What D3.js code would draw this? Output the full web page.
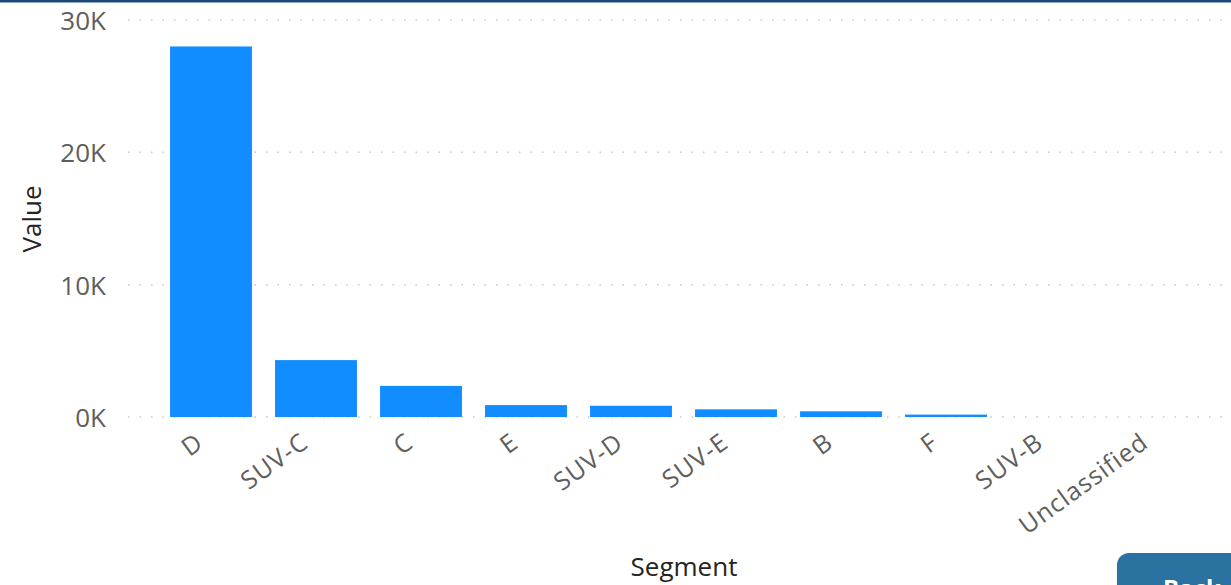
<!DOCTYPE html>
<html>
<head>
<meta charset="utf-8">
<script src="https://cdn.jsdelivr.net/npm/d3@7"></script>
<style>
  html, body { margin: 0; padding: 0; background: #fff; overflow: hidden; }
  svg { display: block; font-family: "Open Sans", "Noto Sans", sans-serif; }
</style>
</head>
<body>
<svg id="chart" width="1231" height="585"></svg>
<script>
// Vehicle count by market segment
const segments = ["D", "SUV-C", "C", "E", "SUV-D", "SUV-E", "B", "F", "SUV-B", "Unclassified"];
const values   = [28000, 4300, 2350, 900, 850, 580, 430, 180, 0, 0];
const yTicks   = [0, 10000, 20000, 30000];
const yTickLabels = ["0K", "10K", "20K", "30K"];

const svg = d3.select("#chart");
const W = 1231, H = 585;

// header rule along the top edge
svg.append("rect").attr("x", 0).attr("y", 0).attr("width", W).attr("height", 2.5).attr("fill", "#1b4a7a");

const x = d3.scaleBand()
  .domain(segments)
  .range([158.5, 1208.5])
  .paddingInner(0.22)
  .paddingOuter(0.11);

const y = d3.scaleLinear()
  .domain([0, 30000])
  .range([417, 20]);

// dotted gridlines
const grid = svg.append("g");
grid.selectAll("line")
  .data(yTicks)
  .join("line")
  .attr("x1", 128)
  .attr("x2", W)
  .attr("y1", d => y(d))
  .attr("y2", d => y(d))
  .attr("stroke", "#c8c8c8")
  .attr("stroke-width", 1.5)
  .attr("stroke-dasharray", "1.5,10");

// bars
svg.append("g")
  .selectAll("rect")
  .data(segments.map((s, i) => ({ s, v: values[i] })))
  .join("rect")
  .attr("x", d => x(d.s))
  .attr("width", x.bandwidth())
  .attr("y", d => y(d.v))
  .attr("height", d => y(0) - y(d.v))
  .attr("fill", "#118dff");

// y axis tick labels
const yAxis = d3.axisLeft(y)
  .tickValues(yTicks)
  .tickFormat((d, i) => yTickLabels[i])
  .tickSize(0)
  .tickPadding(0);
const yg = svg.append("g").attr("transform", "translate(106,0)").call(yAxis);
yg.select(".domain").remove();
yg.selectAll("text")
  .attr("font-size", 26)
  .attr("fill", "#605e5c")
  .attr("dy", "0.36em")
  .style("font-family", "Open Sans, sans-serif");

// x axis category labels, rotated
const xAxis = d3.axisBottom(x).tickSize(0).tickPadding(0);
const xg = svg.append("g").attr("transform", "translate(0,417)").call(xAxis);
xg.select(".domain").remove();
xg.selectAll("text")
  .attr("font-size", 25)
  .attr("fill", "#605e5c")
  .attr("text-anchor", "end")
  .attr("dy", 0)
  .attr("y", 0)
  .attr("letter-spacing", 1)
  .attr("transform", "translate(-6,29) rotate(-36)")
  .style("font-family", "Open Sans, sans-serif");

// axis titles
svg.append("text")
  .attr("transform", "translate(41,219) rotate(-90)")
  .attr("text-anchor", "middle")
  .attr("font-size", 26)
  .attr("fill", "#252423")
  .text("Value");

svg.append("text")
  .attr("x", 684)
  .attr("y", 576)
  .attr("text-anchor", "middle")
  .attr("font-size", 26)
  .attr("fill", "#252423")
  .text("Segment");

// navigation button, partly off the canvas edge
svg.append("rect")
  .attr("x", 1117).attr("y", 553)
  .attr("width", 160).attr("height", 80)
  .attr("rx", 12)
  .attr("fill", "#2a73a0");
svg.append("text")
  .attr("x", 1163).attr("y", 597)
  .attr("font-size", 24)
  .attr("font-weight", "bold")
  .attr("fill", "#ffffff")
  .text("Back");
</script>
</body>
</html>
